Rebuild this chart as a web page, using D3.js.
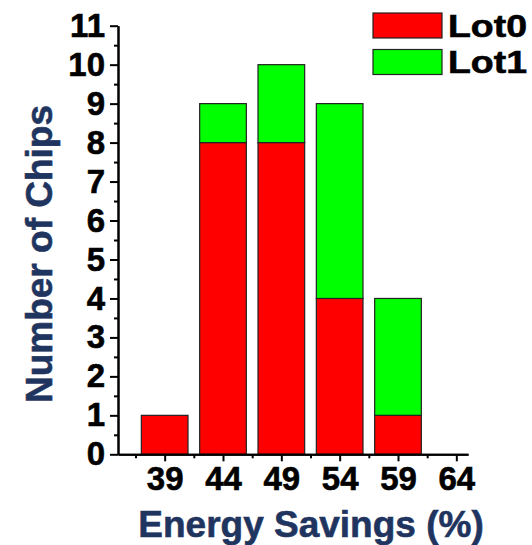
<!DOCTYPE html>
<html>
<head>
<meta charset="utf-8">
<script src="https://cdn.jsdelivr.net/npm/d3@7"></script>
<style>
  body { margin: 0; background: #fff; }
  svg text { font-family: "Liberation Sans", Arial, Helvetica, sans-serif; font-weight: bold; }
</style>
</head>
<body>
<script>
var bins = [39, 44, 49, 54, 59, 64];
var lot0 = [1, 8, 8, 4, 1, 0];
var lot1 = [0, 1, 2, 5, 3, 0];
var series = ['Lot0', 'Lot1'];
var colors = ['#ff0000', '#00ff00'];
var yTicks = [0, 1, 2, 3, 4, 5, 6, 7, 8, 9, 10, 11];

var w = 532;
var h = 545;

var svg = d3.select('body')
  .append('svg')
  .attr('width', w)
  .attr('height', h);

/* ===== scales ===== */

var xScale = d3.scaleLinear()
  .domain([35, 65])
  .range([118, 468]);

var yScale = d3.scaleLinear()
  .domain([0, 11])
  .range([454.3, 25.7]);

var binWidth = 4;

/* ===== stacked bars ===== */

var rows = bins.map(function(b, i) {
  return { bin: b, Lot0: lot0[i], Lot1: lot1[i] };
});
var stacked = d3.stack().keys(series)(rows);

svg.selectAll('g.layer')
  .data(stacked)
  .enter()
  .append('g')
  .attr('class', 'layer')
  .attr('fill', function(d, i) { return colors[i]; })
  .selectAll('rect')
  .data(function(d) { return d.filter(function(p) { return p[1] - p[0] > 0; }); })
  .enter()
  .append('rect')
  .attr('x', function(d) { return xScale(d.data.bin - binWidth / 2); })
  .attr('width', function(d) { return xScale(binWidth) - xScale(0); })
  .attr('y', function(d) { return yScale(d[1]); })
  .attr('height', function(d) { return yScale(d[0]) - yScale(d[1]); })
  .attr('stroke', '#222')
  .attr('stroke-width', 1.2);

/* ===== axes ===== */

var yAxis = d3.axisLeft(yScale)
  .tickValues(yTicks)
  .tickSize(8)
  .tickPadding(5)
  .tickSizeOuter(0);

var yMinor = d3.axisLeft(yScale)
  .tickValues(yTicks.slice(0, -1).map(function(t) { return t + 0.5; }))
  .tickSize(4)
  .tickFormat('')
  .tickSizeOuter(0);

var xAxis = d3.axisBottom(xScale)
  .tickValues(bins)
  .tickSize(7)
  .tickPadding(5)
  .tickSizeOuter(0);

var xMinor = d3.axisBottom(xScale)
  .tickValues(bins.map(function(b) { return b - 2.5; }))
  .tickSize(4)
  .tickFormat('')
  .tickSizeOuter(0);

function styleAxis(g) {
  g.select('.domain').attr('stroke', '#000').attr('stroke-width', 2);
  g.selectAll('.tick line').attr('stroke', '#000').attr('stroke-width', 2);
  g.selectAll('.tick text')
    .attr('fill', '#000')
    .attr('stroke', '#000')
    .attr('stroke-width', 0.6)
    .style('font-size', '33px');
}

svg.append('g')
  .attr('transform', 'translate(' + xScale(35) + ',0)')
  .call(yAxis)
  .call(styleAxis);

svg.append('g')
  .attr('transform', 'translate(' + xScale(35) + ',0)')
  .call(yMinor)
  .call(styleAxis);

svg.append('g')
  .attr('transform', 'translate(0,' + yScale(0) + ')')
  .call(xAxis)
  .call(styleAxis);

svg.append('g')
  .attr('transform', 'translate(0,' + yScale(0) + ')')
  .call(xMinor)
  .call(styleAxis);

/* ===== titles ===== */

svg.append('text')
  .attr('x', 311)
  .attr('y', 537)
  .attr('text-anchor', 'middle')
  .attr('fill', '#1f3560')
  .attr('stroke', '#1f3560')
  .attr('stroke-width', 0.6)
  .style('font-size', '37px')
  .text('Energy Savings (%)');

svg.append('text')
  .attr('transform', 'translate(52,254) rotate(-90)')
  .attr('text-anchor', 'middle')
  .attr('fill', '#1f3560')
  .attr('stroke', '#1f3560')
  .attr('stroke-width', 0.6)
  .style('font-size', '37px')
  .text('Number of Chips');

/* ===== legend ===== */

var legend = svg.selectAll('g.legend')
  .data(series)
  .enter()
  .append('g')
  .attr('class', 'legend')
  .attr('transform', function(d, i) { return 'translate(373,' + (13 + i * 36.5) + ')'; });

legend.append('rect')
  .attr('width', 69)
  .attr('height', 25)
  .attr('fill', function(d, i) { return colors[i]; })
  .attr('stroke', '#222')
  .attr('stroke-width', 1.2);

legend.append('text')
  .attr('x', 75)
  .attr('y', 23.5)
  .attr('fill', '#000')
  .attr('stroke', '#000')
  .attr('stroke-width', 0.6)
  .attr('textLength', 79)
  .attr('lengthAdjust', 'spacingAndGlyphs')
  .style('font-size', '32px')
  .text(function(d) { return d; });
</script>
</body>
</html>
